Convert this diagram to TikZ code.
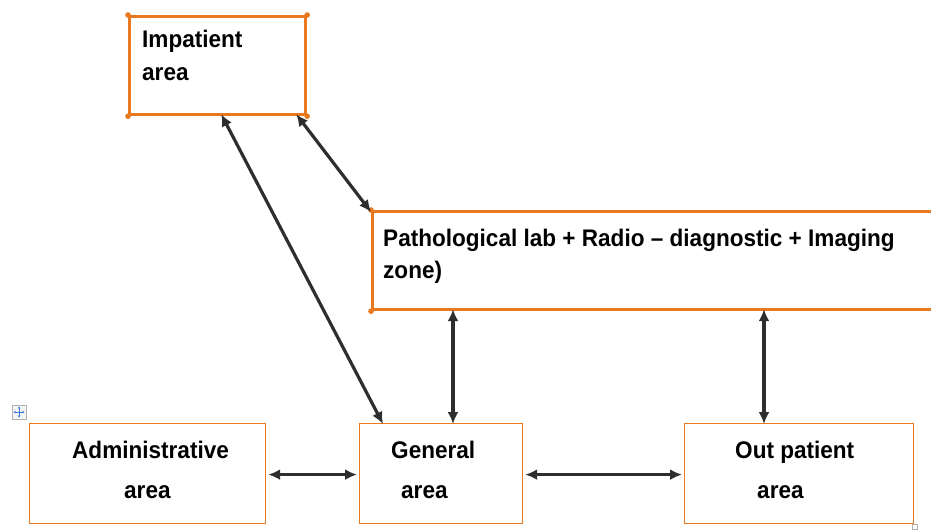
\documentclass[tikz,border=0pt]{standalone}
\usepackage{fontspec}
\setmainfont{Liberation Sans}[FakeStretch=0.94]
\usetikzlibrary{arrows.meta}
\definecolor{boxorange}{HTML}{E8791E}
\definecolor{linkgray}{HTML}{2E2E2E}
\definecolor{handleblue}{HTML}{3A78D8}
\begin{document}
\begin{tikzpicture}[x=1pt,y=-1pt,
  heavybox/.style={draw=boxorange, line width=3.2pt, minimum width=#1, minimum height=98pt, anchor=north west, inner sep=0pt},
  lightbox/.style={draw=boxorange, line width=1.2pt, minimum width=#1, minimum height=100pt, anchor=north west, inner sep=0pt},
  lbl/.style={font=\fontsize{24}{28}\selectfont\bfseries, inner sep=0pt, anchor=base west},
  link/.style={draw=linkgray, line width=3.2pt, {Latex[length=12pt,width=11pt]}-{Latex[length=12pt,width=11pt]}},
  cornerdot/.style={fill=boxorange}
]
\useasboundingbox (0,0) rectangle (931,531);

% upper boxes, heavy outline with dotted corners
\node[heavybox=176pt] (imp) at (128,15) {};
\node[heavybox=600pt] (lab) at (371,210) {};
\foreach \c in {north west, north east, south west, south east}
  \fill[cornerdot] (imp.\c) circle (2.8pt);
\foreach \c in {north west, south west}
  \fill[cornerdot] (lab.\c) circle (2.8pt);

% lower boxes, thin outline
\node[lightbox=236pt] (adm) at (29,423) {};
\node[lightbox=163pt] (gen) at (359,423) {};
\node[lightbox=229pt] (opd) at (684,423) {};

% box texts
\node[lbl] (impA) at (142,47) {Impatient};
\node[lbl] (impB) at (142,80) {area};
\node[lbl] (labA) at (383,246) {Pathological lab + Radio – diagnostic + Imaging};
\node[lbl] (labB) at (383,278) {zone)};
\node[lbl] (admA) at (72,458) {Administrative};
\node[lbl] (admB) at (124,498) {area};
\node[lbl] (genA) at (391,458) {General};
\node[lbl] (genB) at (401,498) {area};
\node[lbl] (opdA) at (735,458) {Out patient};
\node[lbl] (opdB) at (757,498) {area};

% attachment points on the box outlines
\coordinate (impL) at ([xshift=-86pt,yshift=2pt]imp.south east);
\coordinate (impR) at ([xshift=-11pt,yshift=2pt]imp.south east);
\coordinate (labNW) at ([yshift=-2pt]lab.north west);
\coordinate (labS1) at ([xshift=82pt,yshift=2pt]lab.south west);
\coordinate (labS2) at ([xshift=393pt,yshift=2pt]lab.south west);
\coordinate (genN1) at ([xshift=24pt,yshift=-1pt]gen.north west);
\coordinate (genN2) at ([xshift=94pt,yshift=-1pt]gen.north west);
\coordinate (opdN) at ([xshift=80pt,yshift=-1pt]opd.north west);

% connectors
\draw[link] (impL) -- (genN1);
\draw[link] (impR) -- (labNW);
\draw[link] (labS1) -- (genN2);
\draw[link] (labS2) -- (opdN);
\draw[link] ([xshift=2pt,yshift=-1pt]adm.east) -- ([xshift=-2pt,yshift=-1pt]gen.west);
\draw[link] ([xshift=2pt,yshift=-1pt]gen.east) -- ([xshift=-2pt,yshift=-1pt]opd.west);

% move handle at the table corner
\node[draw=gray!60, fill=gray!8, line width=0.6pt, minimum size=14pt, inner sep=0pt] (handle) at (19,412) {};
\begin{scope}[handleblue, line width=0.9pt, -{Stealth[length=2.2pt,width=2.6pt]}]
  \draw (handle.center) -- ++(0,-5.5);
  \draw (handle.center) -- ++(0,5.5);
  \draw (handle.center) -- ++(-5.5,0);
  \draw (handle.center) -- ++(5.5,0);
\end{scope}
% resize mark at the lower right corner
\node[draw=gray!60, fill=white, line width=0.5pt, minimum size=5pt, inner sep=0pt] (resize) at (915,527) {};
\end{tikzpicture}
\end{document}
